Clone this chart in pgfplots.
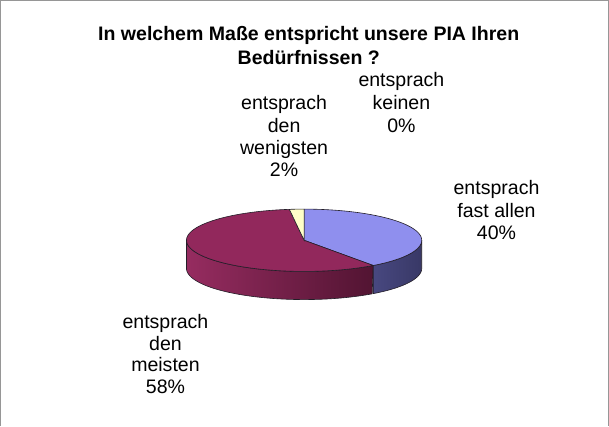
\documentclass[border=0pt]{standalone}
\usepackage{pgfplots}
\pgfplotsset{compat=1.18}
\usepackage{pgfplotstable}
\usepackage{fontspec}
\setmainfont{Liberation Sans}

\definecolor{blueTop}{RGB}{143,143,238}
\definecolor{blueSideL}{RGB}{72,72,128}
\definecolor{blueSideR}{RGB}{56,56,102}
\definecolor{redTop}{RGB}{146,40,92}
\definecolor{redSideL}{RGB}{150,44,96}
\definecolor{redSideR}{RGB}{82,20,50}
\definecolor{yellowTop}{RGB}{255,255,200}
\definecolor{edge}{RGB}{35,30,40}
\definecolor{frame}{RGB}{150,150,150}

\pgfplotstableread{
label value
fastallen 40
denmeisten 58
denwenigsten 2
keinen 0
}\piedata

\newcommand\lbl[3]{\node[anchor=base,inner sep=0pt,font=\fontsize{19.5}{22}\selectfont] at (axis cs:#1,#2) {#3};}

\begin{document}
\begin{tikzpicture}
\pgfplotstablegetelem{0}{value}\of\piedata \let\vA\pgfplotsretval
\pgfplotstablegetelem{1}{value}\of\piedata \let\vB\pgfplotsretval
\pgfplotstablegetelem{2}{value}\of\piedata \let\vC\pgfplotsretval
\pgfplotstablegetelem{3}{value}\of\piedata \let\vD\pgfplotsretval
\pgfmathsetmacro\aA{90}
\pgfmathsetmacro\aB{\aA-3.6*\vA}
\pgfmathsetmacro\aC{\aB-3.6*\vB}
\pgfmathsetmacro\aD{\aC-3.6*\vC}
\def\cx{302.9}\def\cy{243}\def\rx{117}\def\ry{31}\def\dep{28}
\begin{axis}[width=609bp,height=428bp,scale only axis,
  xmin=0,xmax=609,ymin=0,ymax=428,y dir=reverse,hide axis,clip=false]
% frame
\draw[frame,line width=1.2bp] (axis cs:1,428) -- (axis cs:1,4.6) -- (axis cs:605.6,4.6) -- (axis cs:605.6,428);
% red side (visible part: -180 .. aB)
\addplot[domain=0:2,samples=401,variable=\s,left color=redSideL,right color=redSideR,draw=edge,line width=0.6bp]
 ({\cx+\rx*cos((\s<=1) ? (-180+(\aB+180)*\s) : (\aB+(-180-\aB)*(\s-1)))},
  {\cy-\ry*sin((\s<=1) ? (-180+(\aB+180)*\s) : (\aB+(-180-\aB)*(\s-1)))+((\s>1) ? \dep : 0)}) --cycle;
% blue side (visible part: aB .. 0)
\addplot[domain=0:2,samples=401,variable=\s,left color=blueSideL,right color=blueSideR,draw=edge,line width=0.6bp]
 ({\cx+\rx*cos((\s<=1) ? (\aB+(0-\aB)*\s) : (0+(\aB-0)*(\s-1)))},
  {\cy-\ry*sin((\s<=1) ? (\aB+(0-\aB)*\s) : (0+(\aB-0)*(\s-1)))+((\s>1) ? \dep : 0)}) --cycle;
% tops
\addplot[domain=\aB:\aA,samples=120,variable=\t,fill=blueTop,draw=edge,line width=0.6bp]
 ({\cx+\rx*cos(\t)},{\cy-\ry*sin(\t)}) -- (axis cs:\cx,\cy) -- cycle;
\addplot[domain=\aC:\aB,samples=160,variable=\t,fill=redTop,draw=edge,line width=0.6bp]
 ({\cx+\rx*cos(\t)},{\cy-\ry*sin(\t)}) -- (axis cs:\cx,\cy) -- cycle;
\addplot[domain=\aD:\aC,samples=10,variable=\t,fill=yellowTop,draw=edge,line width=0.6bp]
 ({\cx+\rx*cos(\t)},{\cy-\ry*sin(\t)}) -- (axis cs:\cx,\cy) -- cycle;
% title
\node[anchor=base,inner sep=0pt,font=\bfseries\fontsize{19.5}{22}\selectfont] at (axis cs:307.5,44.3) {In welchem Maße entspricht unsere PIA Ihren};
\node[anchor=base,inner sep=0pt,font=\bfseries\fontsize{19.5}{22}\selectfont] at (axis cs:307.5,67.7) {Bedürfnissen ?};
% labels
\lbl{399.7}{90.5}{entsprach}
\lbl{399.7}{113}{keinen}
\lbl{399.7}{135.5}{0\%}
\lbl{283}{113.3}{entsprach}
\lbl{283}{136}{den}
\lbl{283}{158}{wenigsten}
\lbl{283}{180}{2\%}
\lbl{494.3}{197}{entsprach}
\lbl{494.3}{220}{fast allen}
\lbl{494.3}{242.5}{40\%}
\lbl{165}{330.5}{entsprach}
\lbl{165}{352.3}{den}
\lbl{165}{374}{meisten}
\lbl{165}{395.5}{58\%}
\end{axis}
\end{tikzpicture}
\end{document}
